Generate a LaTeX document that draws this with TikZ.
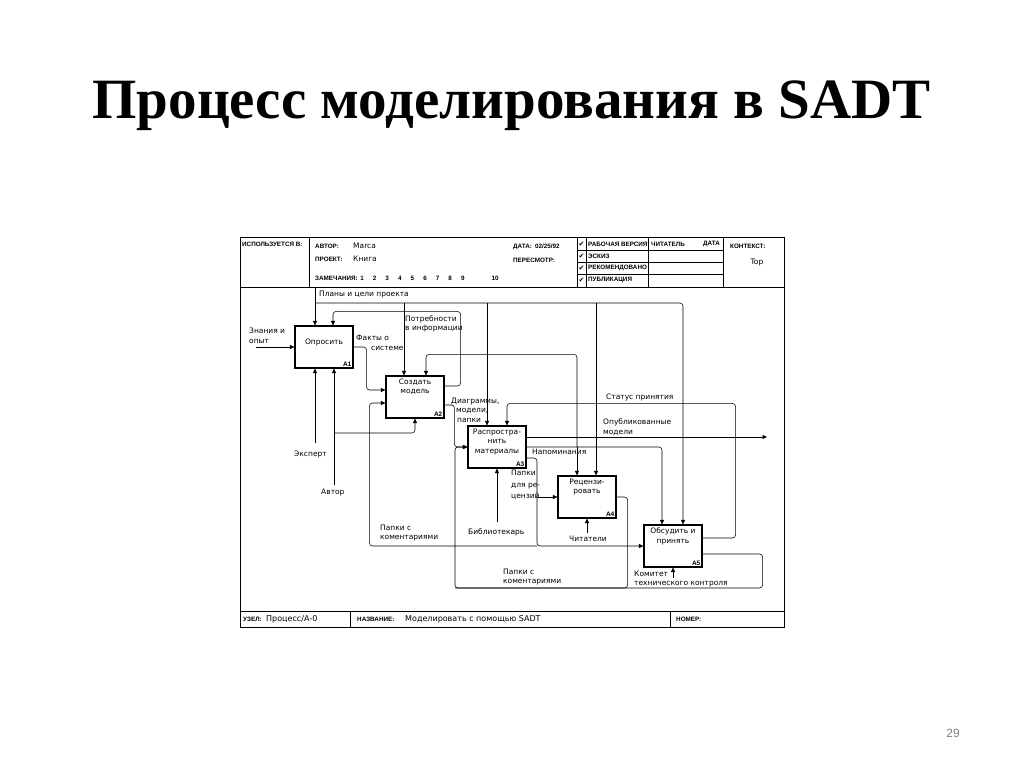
\documentclass[tikz,border=0pt]{standalone}
\usepackage{fontspec}
\setmainfont{Liberation Serif}
\setsansfont{Liberation Sans}
\newfontfamily\dgfamily{DejaVu Sans}
\newfontfamily\hdfamily{Liberation Sans}
\usetikzlibrary{arrows.meta, positioning}
\newcommand{\dfnt}{\dgfamily\fontsize{7.5}{9.6}\selectfont}
\newcommand{\hfnt}{\hdfamily\bfseries\fontsize{6.3}{7}\selectfont}
\newcommand{\chk}{{\dgfamily\fontsize{7}{7}\selectfont ✔}}

\begin{document}
\begin{tikzpicture}[x=1pt, y=1pt,
    fbox/.style={draw, line width=1.1pt, minimum width=58pt, minimum height=42pt, inner sep=0pt},
    btxt/.style={font=\dfnt, align=center, inner sep=0pt},
    bnum/.style={font=\hdfamily\bfseries\fontsize{6.5}{7}\selectfont, inner sep=0pt},
    flow/.style={line width=0.55pt, rounded corners=3pt},
    arr/.style={flow, -{Triangle[length=4.5pt, width=4pt]}},
    lbl/.style={font=\dfnt, align=left, inner sep=0pt, anchor=west},
    hlbl/.style={font=\hfnt, inner sep=0pt, anchor=west},
    frm/.style={line width=0.8pt}]
    \useasboundingbox (0,0) rectangle (1024,-767);

    % Title and page number
    \node[font=\bfseries\fontsize{57}{58}\selectfont, anchor=base] (title) at (511.5,-119) {Процесс моделирования в SADT};
    \node[font=\sffamily\fontsize{12}{12}\selectfont, text=gray] (page) at (953,-733) {29};

    % Form frame
    \draw[frm] (240,-237) rectangle (784,-627);
    \draw[frm] (240,-287) -- (784,-287);
    \draw[frm] (240,-611) -- (784,-611);
    \draw[frm] (309,-237) -- (309,-287);
    \foreach \x in {577,586,648,723} \draw[frm] (\x,-237) -- (\x,-287);
    \foreach \y in {-250,-262,-274} \draw[frm] (577,\y) -- (723,\y);
    \foreach \x in {350,670} \draw[frm] (\x,-611) -- (\x,-627);

    % Header
    \node[hlbl] (used) at (242,-244) {ИСПОЛЬЗУЕТСЯ В:};
    \node[hlbl] (authk) at (315,-246) {АВТОР:};
    \node[lbl] (authv) at (353,-246) {Marca};
    \node[hlbl] (projk) at (315,-259) {ПРОЕКТ:};
    \node[lbl] (projv) at (353,-259) {Книга};
    \node[hlbl] (notesk) at (315,-278) {ЗАМЕЧАНИЯ:};
    \foreach \k in {1,...,9} \node[hlbl, anchor=center] (note\k) at ({362+(\k-1)*12.6},-278) {\k};
    \node[hlbl, anchor=center] (note10) at (495,-278) {10};
    \node[hlbl] (datek) at (513,-247) {ДАТА:\enspace 02/25/92};
    \node[hlbl] (revk) at (513,-260) {ПЕРЕСМОТР:};
    \foreach \y/\txt [count=\i] in {-244/РАБОЧАЯ ВЕРСИЯ, -256/ЭСКИЗ, -268/РЕКОМЕНДОВАНО, -280/ПУБЛИКАЦИЯ} {
        \node[inner sep=0pt] (chk\i) at (581.5,\y) {\chk};
        \node[hlbl] (stage\i) at (588,\y) {\txt};
    }
    \node[hlbl] (readk) at (651,-244) {ЧИТАТЕЛЬ};
    \node[hlbl, anchor=east] (rdatek) at (720,-244) {ДАТА};
    \node[hlbl] (ctxk) at (730,-246) {КОНТЕКСТ:};
    \node[lbl, anchor=center] (ctxv) at (757,-263) {Top};

    % Footer
    \node[hlbl] (nodek) at (243,-619) {УЗЕЛ:};
    \node[lbl, font=\dgfamily\fontsize{8}{9}\selectfont] (nodev) at (266,-619) {Процесс/А-0};
    \node[hlbl] (namek) at (357,-619) {НАЗВАНИЕ:};
    \node[lbl, font=\dgfamily\fontsize{8}{9}\selectfont] (namev) at (405,-619) {Моделировать с помощью SADT};
    \node[hlbl] (numk) at (676,-619) {НОМЕР:};

    % Activity boxes
    \node[fbox] (a1) at (324,-347) {};
    \node[fbox] (a2) at (415,-397) {};
    \node[fbox] (a3) at (497,-447) {};
    \node[fbox] (a4) at (587,-497) {};
    \node[fbox] (a5) at (673,-546) {};
    \node[btxt, below=13pt of a1.north] (a1t) {Опросить};
    \node[btxt, below=3pt of a2.north] (a2t) {Создать\\модель};
    \node[btxt, below=3pt of a3.north] (a3t) {Распростра-\\нить\\материалы};
    \node[btxt, below=3pt of a4.north] (a4t) {Рецензи-\\ровать};
    \node[btxt, below=3pt of a5.north] (a5t) {Обсудить и\\принять};
    \foreach \b in {1,...,5} \node[bnum, above left=2pt and 2pt of a\b.south east] (a\b n) {A\b};

    % Free ends and joints
    \coordinate (planin) at (315,-287);
    \coordinate (planj) at (315,-303);
    \coordinate (pl2) at (404,-303);
    \coordinate (pl3) at (487,-303);
    \coordinate (pl4) at (596,-303);
    \coordinate (know) at (256,-347);
    \coordinate (expert) at (315,-443);
    \coordinate (author) at (334,-485);
    \coordinate (authj) at (334,-433);
    \coordinate (remj) at (577,-447);
    \coordinate (kitm) at (537,-497);
    \coordinate (kitj) at (537,-546);
    \coordinate (loopl) at (455,-588);
    \coordinate (publ) at (767,-437);
    \coordinate (libr) at (497,-522);
    \coordinate (read) at (587,-533);
    \coordinate (comm) at (673,-578);

    % Controls: plans and goals
    \draw[arr] (planin) -- ([xshift=-9pt]a1.north);
    \draw[arr] (planj) -| ([xshift=10pt]a5.north);
    \draw[arr] (pl2) -- ([xshift=-11pt]a2.north);
    \draw[arr] (pl3) -- ([xshift=-10pt]a3.north);
    \draw[arr] (pl4) -- ([xshift=9pt]a4.north);

    % Inputs and outputs
    \draw[arr] (know) -- (a1.west);
    \draw[arr] ([yshift=11pt]a2.east) -- ++(16,0) |- ([xshift=9pt,yshift=14pt]a1.north) -- ([xshift=9pt]a1.north);
    \draw[arr] (a1.east) -- ++(13,0) |- ([yshift=7pt]a2.west);
    \draw[arr] ([yshift=-8pt]a2.east) -| ([xshift=-13pt]a3.west) -- (a3.west);
    \draw[arr] ([yshift=8pt]a5.east) -- ++(33,0) |- ([xshift=10pt,yshift=22pt]a3.north) -- ([xshift=10pt]a3.north);
    \draw[arr] ([yshift=10pt]a3.east) -- (publ);
    \draw[arr] (a3.east) -| ([xshift=-11pt]a5.north);
    \draw[arr] (remj) -- ([xshift=-10pt]a4.north);
    \draw[arr] (remj) |- ([xshift=11pt,yshift=21pt]a2.north) -- ([xshift=11pt]a2.north);
    \draw[arr] ([yshift=-11pt]a3.east) -| (kitj) -- (a5.west);
    \draw[arr] (kitm) -- (a4.west);
    \draw[arr] (kitj) -| ([xshift=-16pt,yshift=-6pt]a2.west) -- ([yshift=-6pt]a2.west);
    \draw[arr] (a4.east) -- ++(11,0) |- (loopl) |- (a3.west);
    \draw[flow] ([yshift=-8pt]a5.east) -- ++(60,0) |- (loopl);

    % Mechanisms
    \draw[arr] (expert) -- (expert |- a1.south);
    \draw[arr] (author) -- (author |- a1.south);
    \draw[arr] (authj) -| (a2.south);
    \draw[arr] (libr) -- (a3.south);
    \draw[arr] (read) -- (a4.south);
    \draw[arr] (comm) -- (a5.south);

    % Arrow labels
    \node[lbl] (planl) at (319,-295) {Планы и цели проекта};
    \node[lbl] (knowl) at (249,-336) {Знания и\\опыт};
    \node[lbl] (factl) at (356,-343) {Факты о\\\hspace*{15pt}системе};
    \node[lbl] (needl) at (405,-324) {Потребности\\в информации};
    \node[lbl] (diagl) at (451,-410) {Диаграммы,\\\hspace*{5pt}модели,\\\hspace*{6pt}папки};
    \node[lbl] (statl) at (606,-397) {Статус принятия};
    \node[lbl] (publl) at (603,-427) {Опубликованные\\модели};
    \node[lbl] (reml) at (532,-452) {Напоминания};
    \node[lbl, font=\dgfamily\fontsize{7.5}{11.5}\selectfont] (kitl) at (511,-485) {Папки\\для ре-\\цензий};
    \node[lbl] (expl) at (294,-454) {Эксперт};
    \node[lbl] (authl) at (321,-493) {Автор};
    \node[lbl] (backl) at (380,-533) {Папки с\\коментариями};
    \node[lbl] (librl) at (468,-532) {Библиотекарь};
    \node[lbl] (readl) at (569,-539) {Читатели};
    \node[lbl] (retl) at (503,-577) {Папки с\\коментариями};
    \node[lbl] (comml) at (634,-579) {Комитет\\технического контроля};
\end{tikzpicture}
\end{document}
